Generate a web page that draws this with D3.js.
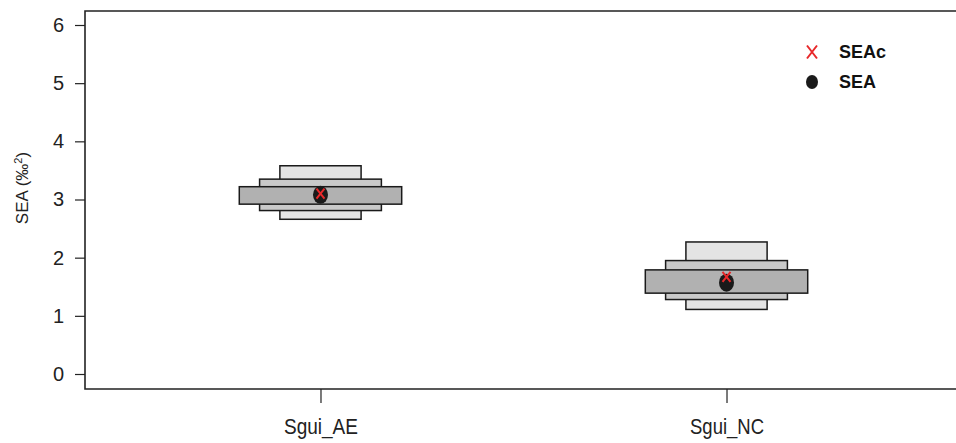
<!DOCTYPE html>
<html>
<head>
<meta charset="utf-8">
<script src="https://cdn.jsdelivr.net/npm/d3@7"></script>
<style>
  body { margin: 0; background: #fff; }
  text { font-family: "Liberation Sans", Arial, sans-serif; }
</style>
</head>
<body>
<div id="chart"></div>
<script>
var width = 956,
    height = 443;

// data
var groups = ["Sgui_AE", "Sgui_NC"];
var sea = [3.08, 1.57];
var seac = [3.10, 1.67];
var ci95 = [[2.66, 3.58], [1.11, 2.27]];
var ci75 = [[2.81, 3.35], [1.28, 1.95]];
var ci50 = [[2.92, 3.22], [1.39, 1.79]];
var yTicks = [0, 1, 2, 3, 4, 5, 6];
var legendItems = ["SEAc", "SEA"];

var plotLeft = 85, plotTop = 11, plotBottom = 389;

var svg = d3.select('#chart').append('svg')
    .attr('width', width)
    .attr('height', height);

// scales
var x = d3.scalePoint().domain(groups).range([plotLeft, 962]).padding(0.58);
var step = x.step();
var y = d3.scaleLinear().domain([0, 6]).range([374, 25]);

// frame (left, top, bottom; right side runs off the picture)
svg.append("path")
    .attr("d", "M" + (width + 2) + "," + plotTop + "H" + plotLeft + "V" + plotBottom + "H" + (width + 2))
    .attr("fill", "none")
    .attr("stroke", "#222")
    .attr("stroke-width", 1.6);

// y axis
var yAxis = svg.append('g').attr("transform", "translate(" + plotLeft + ",0)");
yAxis.call(d3.axisLeft(y).tickValues(yTicks).tickSize(10).tickPadding(11).tickFormat(d3.format("d")));
yAxis.select(".domain").remove();
yAxis.selectAll("line").attr("stroke", "#222").attr("stroke-width", 1.2);
yAxis.selectAll("text").attr("font-size", 20).attr("fill", "#222")
    .attr("font-family", "Liberation Sans, Arial, sans-serif");

// x axis
var xAxis = svg.append('g').attr("transform", "translate(0," + plotBottom + ")");
xAxis.call(d3.axisBottom(x).tickSize(14).tickPadding(15));
xAxis.select(".domain").remove();
xAxis.selectAll("line").attr("stroke", "#222").attr("stroke-width", 1.2);
xAxis.selectAll("text").attr("font-size", 22).attr("fill", "#222")
    .attr("textLength", 74).attr("lengthAdjust", "spacingAndGlyphs");

// y label
var ylab = svg.append("text")
    .attr("transform", "translate(28,188) rotate(-90)")
    .attr("text-anchor", "middle")
    .attr("font-size", 17)
    .attr("fill", "#222");
ylab.append("tspan").text("SEA (‰");
ylab.append("tspan").attr("baseline-shift", "super").attr("font-size", 11).text("2");
ylab.append("tspan").text(")");

// credible boxes: widest = 50%, narrowest = 95%
var boxes = [
  {ci: ci95, half: 0.1, fill: "#e4e4e4"},
  {ci: ci75, half: 0.15, fill: "#c9c9c9"},
  {ci: ci50, half: 0.2, fill: "#b1b1b1"}
];
boxes.forEach(function(b) {
  svg.selectAll(null).data(groups).enter().append("rect")
      .attr("x", function(d) { return x(d) - b.half * step; })
      .attr("width", 2 * b.half * step)
      .attr("y", function(d, i) { return y(b.ci[i][1]); })
      .attr("height", function(d, i) { return y(b.ci[i][0]) - y(b.ci[i][1]); })
      .attr("fill", b.fill)
      .attr("stroke", "#1a1a1a")
      .attr("stroke-width", 1.5);
});

// SEA points
svg.selectAll(".sea").data(groups).enter().append("ellipse")
    .attr("class", "sea")
    .attr("cx", function(d) { return x(d); })
    .attr("cy", function(d, i) { return y(sea[i]); })
    .attr("rx", 7.5).attr("ry", 9)
    .attr("fill", "#1a1a1a");

function cross(g, cx, cy, w, h, sw) {
  g.append("path")
    .attr("d", "M" + (cx - w / 2) + "," + (cy - h / 2) + "L" + (cx + w / 2) + "," + (cy + h / 2) +
               "M" + (cx + w / 2) + "," + (cy - h / 2) + "L" + (cx - w / 2) + "," + (cy + h / 2))
    .attr("stroke", "#e8282a")
    .attr("stroke-width", sw)
    .attr("fill", "none");
}

// SEAc crosses
groups.forEach(function(d, i) {
  cross(svg, x(d), y(seac[i]), 8, 10, 2);
});

// legend
var legend = svg.append("g").attr("transform", "translate(812,52)");
cross(legend, 0, 0, 10, 13, 2);
legend.append("ellipse").attr("cx", 0).attr("cy", 30).attr("rx", 6).attr("ry", 7).attr("fill", "#1a1a1a");
legend.selectAll(".ltext").data(legendItems).enter().append("text")
    .attr("class", "ltext")
    .attr("x", 27)
    .attr("y", function(d, i) { return 6 + 30 * i; })
    .attr("font-size", 18)
    .attr("font-weight", "bold")
    .attr("fill", "#111")
    .text(function(d) { return d; });
</script>
</body>
</html>
